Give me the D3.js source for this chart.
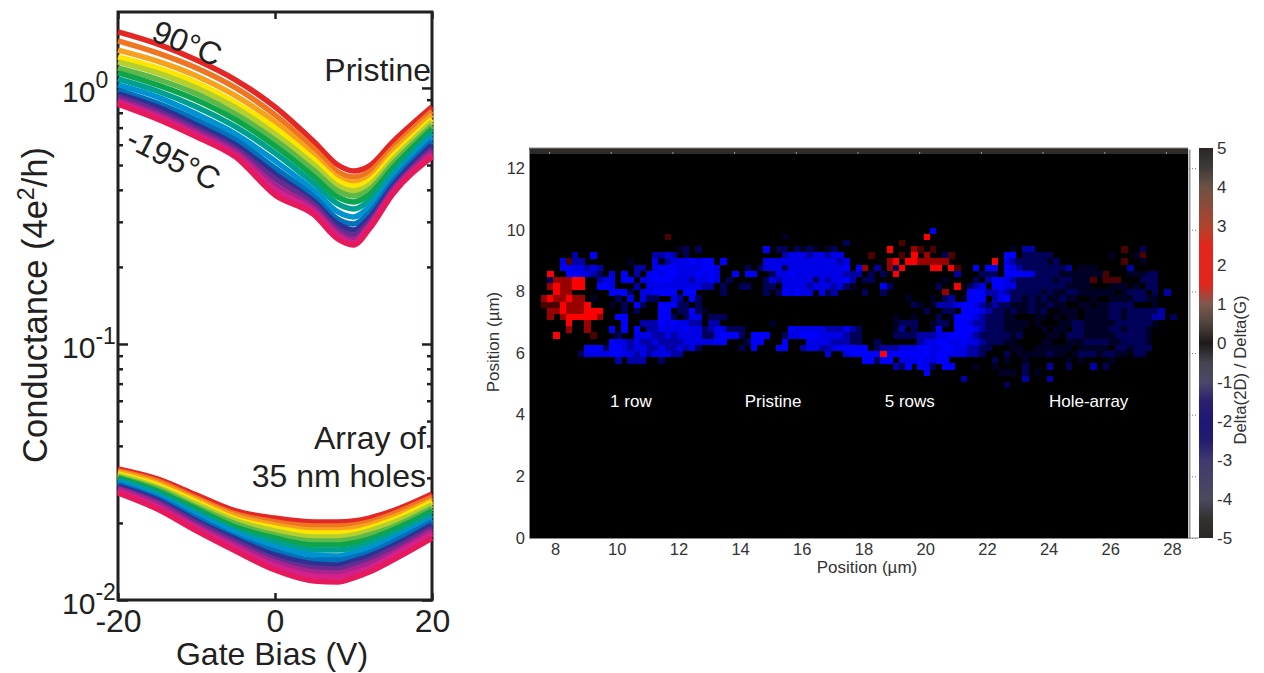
<!DOCTYPE html>
<html>
<head>
<meta charset="utf-8">
<script src="https://cdn.jsdelivr.net/npm/d3@7"></script>
<style>
  body { margin: 0; background: #fff; }
  text { font-family: "Liberation Sans", Arial, sans-serif; }
</style>
</head>
<body>
<svg id="chart" width="1264" height="673"></svg>
<script>
// gate bias sample points (V)
const gateBias = [-20, -15, -10, -5, 0, 5, 8, 10, 12, 15, 20];
const curveColors = ["#e32726", "#ee7623", "#f6a21e", "#fde600", "#b5cf2e", "#5cb849", "#0ea44b", "#00a08e",
  "#0093d2", "#0072bc", "#2e3192", "#662d91", "#a7248f", "#d3208b", "#e6195c"];

// log10 of conductance, 90C first
const pristine90 = [0.219, 0.172, 0.109, 0.031, -0.074, -0.211, -0.301, -0.324, -0.305, -0.211, -0.074];
const pristine2 = [0.184, 0.137, 0.078, 0, -0.105, -0.238, -0.328, -0.348, -0.328, -0.234, -0.09];
const pristine3 = [0.148, 0.105, 0.047, -0.031, -0.133, -0.262, -0.348, -0.367, -0.348, -0.25, -0.105];
const pristine4 = [0.121, 0.078, 0.02, -0.059, -0.156, -0.281, -0.363, -0.383, -0.363, -0.266, -0.121];
const pristine5 = [0.102, 0.059, 0, -0.078, -0.18, -0.301, -0.383, -0.402, -0.379, -0.281, -0.133];
const pristine6 = [0.078, 0.035, -0.023, -0.102, -0.203, -0.324, -0.402, -0.422, -0.398, -0.297, -0.148];
const pristine7 = [0.059, 0.012, -0.047, -0.125, -0.227, -0.348, -0.426, -0.445, -0.418, -0.313, -0.16];
const pristine8 = [0.035, -0.012, -0.074, -0.152, -0.254, -0.375, -0.453, -0.473, -0.441, -0.332, -0.176];
const pristine9 = [0.012, -0.035, -0.102, -0.18, -0.285, -0.402, -0.484, -0.504, -0.465, -0.352, -0.191];
const pristine10 = [-0.008, -0.059, -0.125, -0.203, -0.313, -0.426, -0.512, -0.531, -0.488, -0.367, -0.207];
const pristine11 = [-0.023, -0.074, -0.145, -0.223, -0.336, -0.445, -0.531, -0.555, -0.508, -0.383, -0.223];
const pristine12 = [-0.035, -0.09, -0.16, -0.238, -0.355, -0.457, -0.551, -0.574, -0.523, -0.395, -0.238];
const pristine13 = [-0.047, -0.102, -0.172, -0.25, -0.379, -0.473, -0.566, -0.594, -0.535, -0.402, -0.25];
const pristine14 = [-0.055, -0.113, -0.184, -0.262, -0.398, -0.484, -0.578, -0.605, -0.543, -0.41, -0.262];
const pristine195 = [-0.063, -0.121, -0.191, -0.27, -0.418, -0.496, -0.59, -0.613, -0.551, -0.414, -0.27];

const holes90 = [-1.488, -1.527, -1.59, -1.652, -1.68, -1.695, -1.695, -1.691, -1.68, -1.652, -1.586];
const holes2 = [-1.496, -1.535, -1.602, -1.664, -1.695, -1.711, -1.711, -1.707, -1.695, -1.664, -1.598];
const holes3 = [-1.5, -1.543, -1.609, -1.672, -1.707, -1.727, -1.727, -1.719, -1.707, -1.676, -1.609];
const holes4 = [-1.508, -1.551, -1.617, -1.684, -1.719, -1.738, -1.738, -1.734, -1.719, -1.688, -1.617];
const holes5 = [-1.512, -1.559, -1.625, -1.691, -1.73, -1.754, -1.754, -1.746, -1.73, -1.699, -1.629];
const holes6 = [-1.52, -1.566, -1.637, -1.703, -1.746, -1.77, -1.77, -1.762, -1.746, -1.715, -1.641];
const holes7 = [-1.523, -1.574, -1.645, -1.715, -1.758, -1.785, -1.785, -1.777, -1.762, -1.727, -1.652];
const holes8 = [-1.531, -1.582, -1.656, -1.727, -1.773, -1.805, -1.805, -1.797, -1.777, -1.742, -1.668];
const holes9 = [-1.539, -1.594, -1.668, -1.738, -1.793, -1.824, -1.828, -1.816, -1.797, -1.758, -1.684];
const holes10 = [-1.547, -1.602, -1.68, -1.754, -1.809, -1.844, -1.844, -1.832, -1.816, -1.773, -1.695];
const holes11 = [-1.555, -1.609, -1.691, -1.762, -1.824, -1.859, -1.863, -1.848, -1.828, -1.789, -1.707];
const holes12 = [-1.563, -1.617, -1.699, -1.773, -1.84, -1.875, -1.879, -1.863, -1.844, -1.801, -1.719];
const holes13 = [-1.566, -1.625, -1.711, -1.785, -1.852, -1.891, -1.895, -1.879, -1.859, -1.816, -1.73];
const holes14 = [-1.574, -1.637, -1.719, -1.797, -1.867, -1.906, -1.91, -1.895, -1.875, -1.828, -1.742];
const holes195 = [-1.582, -1.645, -1.73, -1.809, -1.883, -1.926, -1.93, -1.914, -1.891, -1.844, -1.758];

const pristineCurves = [pristine90, pristine2, pristine3, pristine4, pristine5, pristine6, pristine7, pristine8,
  pristine9, pristine10, pristine11, pristine12, pristine13, pristine14, pristine195];
const holeCurves = [holes90, holes2, holes3, holes4, holes5, holes6, holes7, holes8,
  holes9, holes10, holes11, holes12, holes13, holes14, holes195];

// Raman map cells, one string per row from the top, one char per 0.2 um column, spaces are only for reading
const cellValues = { a: -0.3, b: -0.7, c: -1.3, d: -1.8, e: -2, p: 0.6, q: 1.2, r: 2 };
const mapRows = [
  ".......... .......... .......... .......... .......... .......... ...e......",
  ".......... .......... p......... .........a .......... .......... ..r.......",
  ".......... .......... .......... .......... .........b ........p.",
  ".......... .......... ..ab.b.... ......e.bb .baba.ab.. ......r... qp.p...... ......a.cc .......... ....p..b..",
  ".....c..e. ........cc dc.b...... .........c dddcddcdd. ...p....p. r.q..bp... .....ee.bb bbb....... ..a...ap..",
  "...dpcc... ....a...da cdddedee.e ......dddd ddddddddcd ......qr.r rqqqqq.... ...r.dcbbb bbab...... ....p..a..",
  "...eeddcdc .....cc.de eeddddeed. ...b.bdddb ddddddddde .eq.c.qbr. ...rr.rp.. e.ee.edcbb bbbbbc.aaa .....c....",
  ".r..eeddcb .d.e.c.ded eedddeded. .e.ee..bdd eddddddddc cc.b.b.r.. .......c.. .bbb.eeeed bbbbaaaaaa ap...aaabb",
  ".bqqqrr..c dd.ee.ddee edddcdded. b.....bdcd ddddbdcdde c.bb...... .....a.... b.ceedcbbb bbbabbaaap .ppp...bbb",
  ".qrqqrr..e ed...c.ddd ddddddcc.b ..bb..bb.d dddcdddcdb a....eb... ....b..r.b cd.eeddbbb bbbbbaaaa. ..aaa.a.bb",
  "..rqq..... .eeeb.ddee ee.ee....b ......b.be dedd.dbc.. ..b..b.... .....q...e eeccdcbbbb babaabbaaa aaa.abbb.b .c....",
  "qrqqrqq.a. ..b.d.dbb. .dc.eb.... .......... .......... .........a ...a.bc.ae ee.cdebbab abaabaa..a ..aaaabbaa",
  "ppprqqqr.. .a.b.eb..e eebb.b.... .......... .......... .......... ba.acccdee dcbcbbaaab aabaa..aa. aabbbb...a",
  ".qqrqqqrrr ...b.b...e e.bbeba... .......... .......... .......... ..b..bb.ee edcbbabaab ab..aaa.aa aabbabbbbb c.....",
  ".q.qrrrrrq ..ee.....e eb.bdd.bbb .......... .......... .......a.. a...b.aeee dcbbbaa... aa.a.aa.aa aabbabbbbc c.b...",
  "....r..q.. ...e..ccce deddcc.cc. .......a.. .......... .......abb b..abb.eed ccbbbaaaa. a...aabbaa aaabbbbbba",
  "....q..q.. .e.e.e.ccd dddeddbcdd bbb....... edddddcccd cb.....ac. b..ae..eee dcbbbaaa.. .a.aa.bbaa aabbabbba.",
  "..r.....p. ..b..dddcc dcddddbbde eeb.eee..b ddeeeddddc bb.....bbb bcccddeeed cbbbbbab.. ..aa.bbbaa aaabbbbba.",
  ".......... .eddcdccdc cccdddddee ...bee...e ...ddddccc bb..b..... .cddeedded dcbbbaa... .aa..aaabb bbaabbbba.",
  ".......eee beedcddccd ccdcdb.... ..b.e...ee ..cddccdee eee.bcccdd deeddeeddc cbb...aa.. aaaaaa.aaa aa.bbabbb.",
  "......bddd deeddcdcdd dcc....... .......... ......d..d eeeeereeee eeedeedddc cb...b.aaa aabaa.abbb abbaa.bb..",
  ".......... ..c.ccc..b .......... .......... .......... ..eebee.dd deddee.... ...b.a..a. .....a.a.. ..a.......",
  ".......... .......... .......... .......... .......... .......cbe .edb.ee... a..a....b. ..c..b...c .b........",
  ".......... .......... .......... .......... .......... .......... ..e....... ....aaa.b. a.........",
  ".......... .......... .......... .......... .......... .......... ........c. ........c. ..c.......",
  ".......... .......... .......... .......... .......... .......... .......... .....b...."
];

const mapXTicks = [8, 10, 12, 14, 16, 18, 20, 22, 24, 26, 28];
const mapYTicks = [0, 2, 4, 6, 8, 10, 12];
const barTicks = [5, 4, 3, 2, 1, 0, -1, -2, -3, -4, -5];
const barStopValues = [5, 4.5, 4, 3, 2.5, 1.5, 1, 0.5, 0, -0.5, -1, -1.5, -2, -2.5, -3, -4, -4.5, -5];
const barStopColors = ["#2b2623", "#3e3a38", "#6b5245", "#b0432d", "#e2261c", "#e2261c", "#7d5a4f", "#50433f", "#1e1a18",
  "#45434f", "#4a4868", "#2a2070", "#1f1675", "#231b6e", "#3e3a6e", "#4b4a5c", "#333231", "#2a2725"];

const regionLabels = ["1 row", "Pristine", "5 rows", "Hole-array"];
const regionCenters = [10.46, 15.07, 19.5, 25.3];

const ink = "#231f20";
const svg = d3.select("#chart");

// ---- left panel: conductance vs gate bias
const x = d3.scaleLinear().domain([-20, 20]).range([118, 432]);
const y = d3.scaleLog().domain([0.01, 1.98]).range([600, 12]);

const line = d3.line()
  .x((d, i) => x(gateBias[i]))
  .y(d => y(Math.pow(10, d)))
  .curve(d3.curveMonotoneX);

const left = svg.append("g");

const logTicks = y.ticks().filter(d => d <= 1.98);

function styleAxis(g) {
  g.selectAll("path").attr("stroke", "none");
  g.selectAll("line").attr("stroke", ink).attr("stroke-width", 2.5);
  g.selectAll("text").remove();
}

function isDecade(d) {
  return d === 1 || Math.abs(d - 0.1) < 1e-9 || Math.abs(d - 0.01) < 1e-9;
}

left.append("g")
  .attr("transform", "translate(118,0)")
  .call(d3.axisRight(y).tickValues(logTicks).tickFormat(""))
  .call(styleAxis)
  .selectAll(".tick line").attr("x2", d => isDecade(d) ? 10 : 5);

left.append("g")
  .attr("transform", "translate(432,0)")
  .call(d3.axisLeft(y).tickValues(logTicks).tickFormat(""))
  .call(styleAxis)
  .selectAll(".tick line").attr("x2", d => isDecade(d) ? -10 : -5);

left.append("g")
  .attr("transform", "translate(0,600)")
  .call(d3.axisTop(x).tickValues([-20, 0, 20]).tickSize(7).tickFormat(""))
  .call(styleAxis);

left.append("g")
  .attr("transform", "translate(0,12)")
  .call(d3.axisBottom(x).tickValues([-20, 0, 20]).tickSize(7).tickFormat(""))
  .call(styleAxis);

left.append("rect")
  .attr("x", 118).attr("y", 12)
  .attr("width", 314).attr("height", 588)
  .attr("fill", "none")
  .attr("stroke", ink)
  .attr("stroke-width", 3);

[holeCurves, pristineCurves].forEach(curves => {
  left.append("g")
    .attr("fill", "none")
    .attr("stroke-width", 5.5)
    .selectAll("path")
    .data(curves.map((c, i) => ({ c, color: curveColors[i] })))
    .join("path")
    .attr("stroke", d => d.color)
    .attr("d", d => line(d.c));
});

// decade labels with superscript
left.append("g")
  .selectAll("text")
  .data([[1, "0"], [0.1, "-1"], [0.01, "-2"]])
  .join("text")
  .attr("x", 62)
  .attr("y", d => y(d[0]) + 14)
  .attr("font-size", 30)
  .attr("fill", ink)
  .each(function (d) {
    const t = d3.select(this);
    t.append("tspan").text("10");
    t.append("tspan").attr("font-size", 23).attr("dy", -14).text(d[1]);
  });

left.append("g")
  .attr("transform", "translate(0,600)")
  .call(d3.axisBottom(x).tickValues([-20, 0, 20]).tickSize(0).tickPadding(9).tickFormat(d => String(d)))
  .call(g => g.select(".domain").remove())
  .call(g => g.selectAll("text")
    .attr("font-size", 32)
    .attr("font-family", "Liberation Sans")
    .attr("fill", ink));

left.append("text")
  .attr("x", 272).attr("y", 665)
  .attr("text-anchor", "middle")
  .attr("font-size", 32)
  .attr("fill", ink)
  .text("Gate Bias (V)");

const yLabel = left.append("text")
  .attr("transform", "translate(47,305) rotate(-90)")
  .attr("text-anchor", "middle")
  .attr("font-size", 34.5)
  .attr("fill", ink);
yLabel.append("tspan").text("Conductance (4e");
yLabel.append("tspan").attr("font-size", 23).attr("dy", -13).text("2");
yLabel.append("tspan").attr("dy", 13).text("/h)");

left.append("text")
  .attr("transform", "translate(150,40) rotate(22)")
  .attr("font-size", 32).attr("fill", ink).text("90°C");
left.append("text")
  .attr("transform", "translate(124,146) rotate(27)")
  .attr("font-size", 32).attr("fill", ink).text("-195°C");
left.append("text")
  .attr("x", 431).attr("y", 81).attr("text-anchor", "end")
  .attr("font-size", 32).attr("fill", ink).text("Pristine");
left.append("text")
  .attr("x", 426).attr("y", 449).attr("text-anchor", "end")
  .attr("font-size", 32).attr("fill", ink).text("Array of");
left.append("text")
  .attr("x", 426).attr("y", 487).attr("text-anchor", "end")
  .attr("font-size", 32).attr("fill", ink).text("35 nm holes");

// ---- right panel: Raman map
const mx = d3.scaleLinear().domain([7.157, 28.52]).range([529, 1188]);
const my = d3.scaleLinear().domain([0, 12.62]).range([538, 149]);

const mapX0 = 7.55;    // left edge of first column, um
const mapY0 = 10.07;   // top edge of first row, um
const mapStep = 0.2;

const cellColor = d3.scaleLinear()
  .domain([-2, 0, 2])
  .range(["#0000ff", "#000000", "#ff0000"]);

const cells = [];
mapRows.forEach((row, r) => {
  row.replace(/ /g, "").split("").forEach((ch, c) => {
    if (cellValues[ch] !== undefined) cells.push({ r, c, v: cellValues[ch] });
  });
});

const map = svg.append("g");

map.append("rect")
  .attr("x", mx(7.157)).attr("y", my(12.62))
  .attr("width", mx(28.52) - mx(7.157))
  .attr("height", my(0) - my(12.62))
  .attr("fill", "#000");

map.append("g")
  .selectAll("rect")
  .data(cells)
  .join("rect")
  .attr("x", d => mx(mapX0 + d.c * mapStep))
  .attr("y", d => my(mapY0 - d.r * mapStep))
  .attr("width", mx(mapStep) - mx(0) + 0.3)
  .attr("height", my(0) - my(mapStep) + 0.3)
  .attr("fill", d => cellColor(d.v))
  .attr("shape-rendering", "crispEdges");

// dark strip along the top edge
map.append("rect")
  .attr("x", 529).attr("y", 148)
  .attr("width", 659).attr("height", 6)
  .attr("fill", "#2d2a28");

function styleMapAxis(g) {
  g.select(".domain").attr("stroke", "#8a8a8a");
  g.selectAll("line").attr("stroke", "#8a8a8a");
  g.selectAll("text")
    .attr("font-size", 16.5)
    .attr("font-family", "Liberation Sans")
    .attr("fill", "#333");
}

map.append("g")
  .attr("transform", "translate(0,538)")
  .call(d3.axisBottom(mx).tickValues(mapXTicks).tickSize(0).tickPadding(5))
  .call(styleMapAxis);

map.append("g")
  .attr("transform", "translate(529,0)")
  .call(d3.axisLeft(my).tickValues(mapYTicks).tickSize(0).tickPadding(4))
  .call(styleMapAxis);

map.append("g")
  .attr("transform", "translate(1189,0)")
  .call(d3.axisRight(my).tickValues(mapYTicks).tickSize(9).tickSizeOuter(0).tickFormat(""))
  .call(g => g.select(".domain").attr("stroke", "#9a9a9a").attr("stroke-width", 2))
  .call(g => g.selectAll("line").attr("stroke", "#777").attr("stroke-dasharray", "1,2"));

map.append("g")
  .attr("transform", "translate(-6,154)")
  .call(d3.axisTop(mx).tickValues(mapXTicks).tickSize(2).tickFormat(""))
  .call(g => g.select(".domain").remove())
  .call(g => g.selectAll("line").attr("stroke", "#999"));

map.append("line")
  .attr("x1", 529).attr("x2", 1188)
  .attr("y1", 148).attr("y2", 148)
  .attr("stroke", "#8a8a8a");

map.append("line")
  .attr("x1", 1188).attr("x2", 1199)
  .attr("y1", 538).attr("y2", 538)
  .attr("stroke", "#8a8a8a");

map.append("g")
  .selectAll("text")
  .data(regionLabels)
  .join("text")
  .attr("x", (d, i) => mx(regionCenters[i]))
  .attr("y", my(4.25))
  .attr("text-anchor", "middle")
  .attr("font-size", 17)
  .attr("fill", "#fff")
  .text(d => d);

map.append("text")
  .attr("x", 867).attr("y", 573)
  .attr("text-anchor", "middle")
  .attr("font-size", 17)
  .attr("fill", "#333")
  .text("Position (µm)");

map.append("text")
  .attr("transform", "translate(499,342) rotate(-90)")
  .attr("text-anchor", "middle")
  .attr("font-size", 17)
  .attr("fill", "#333")
  .text("Position (µm)");

// ---- colorbar
const bar = d3.scaleLinear().domain([5, -5]).range([148, 538]);

const grad = svg.append("defs").append("linearGradient")
  .attr("id", "barGradient")
  .attr("x1", 0).attr("x2", 0)
  .attr("y1", 0).attr("y2", 1);

grad.selectAll("stop")
  .data(barStopValues)
  .join("stop")
  .attr("offset", d => (5 - d) / 10)
  .attr("stop-color", (d, i) => barStopColors[i]);

svg.append("rect")
  .attr("x", 1199).attr("y", bar(5))
  .attr("width", 14).attr("height", bar(-5) - bar(5))
  .attr("fill", "url(#barGradient)");

svg.append("g")
  .attr("transform", "translate(1213,0)")
  .call(d3.axisRight(bar).tickValues(barTicks).tickSize(0).tickPadding(4).tickFormat(d => String(d)))
  .call(g => g.select(".domain").remove())
  .call(g => g.selectAll("text")
    .attr("font-size", 17)
    .attr("font-family", "Liberation Sans")
    .attr("fill", "#333"));

svg.append("text")
  .attr("transform", "translate(1246,370) rotate(-90)")
  .attr("text-anchor", "middle")
  .attr("font-size", 16.8)
  .attr("fill", "#333")
  .text("Delta(2D) / Delta(G)");
</script>
</body>
</html>
